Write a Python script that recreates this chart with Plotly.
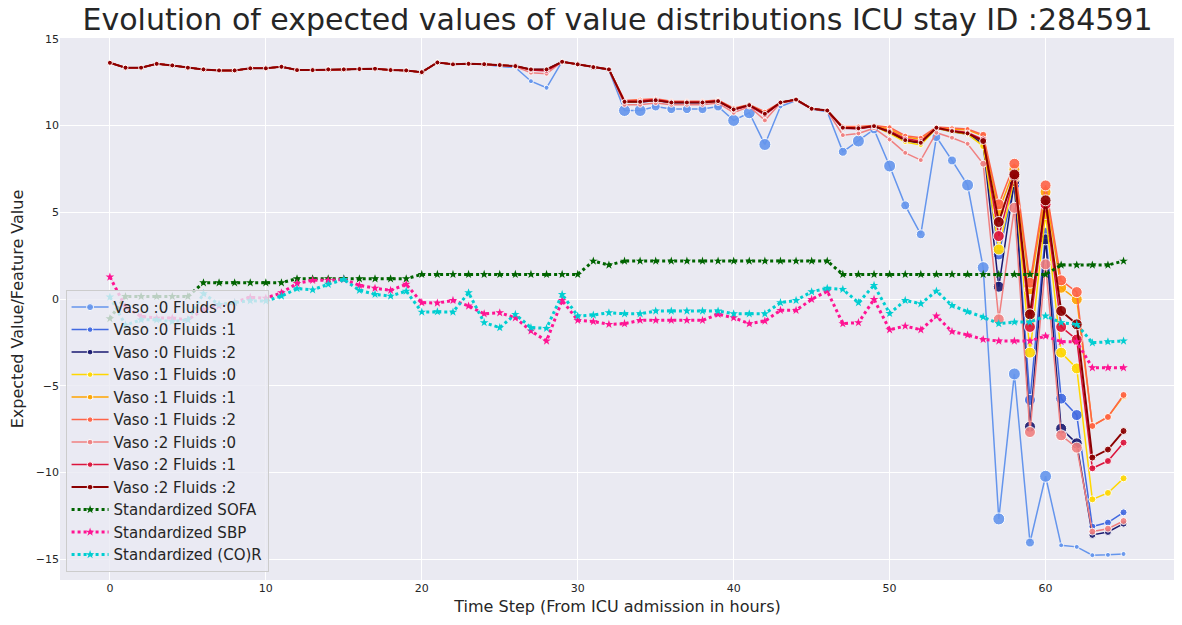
import plotly.graph_objects as go

# time steps (hours since ICU admission)
steps = list(range(66))

# t = 0..24, all nine action curves sit on top of each other here
head = [13.62, 13.34, 13.34, 13.56, 13.47, 13.34, 13.24, 13.18, 13.18, 13.30,
        13.30, 13.39, 13.20, 13.20, 13.24, 13.24, 13.26, 13.28, 13.20, 13.18,
        13.08, 13.64, 13.53, 13.56, 13.54]

# t = 25..65 per action
v0f0 = [13.40, 13.35, 12.56, 12.18, 13.70, 13.53, 13.37, 13.20, 10.87, 10.87,
        11.10, 10.95, 10.95, 10.95, 11.10, 10.30, 10.74, 8.91, 11.10, 11.45,
        10.95, 10.80, 8.49, 9.11, 9.78, 7.67, 5.40, 3.73, 9.34, 7.99,
        6.57, 1.81, -12.68, -4.32, -14.04, -10.22, -14.20, -14.29, -14.77, -14.75,
        -14.70]
v0f1 = [13.49, 13.43, 13.24, 13.22, 13.68, 13.53, 13.37, 13.24, 11.35, 11.35,
        11.45, 11.33, 11.33, 11.33, 11.40, 10.92, 11.17, 10.65, 11.33, 11.50,
        10.97, 10.87, 9.85, 9.83, 9.96, 9.60, 9.10, 9.00, 9.85, 9.65,
        9.50, 8.90, 2.57, 6.60, -5.82, 3.80, -5.74, -6.69, -13.12, -12.89,
        -12.30]
v0f2 = [13.49, 13.43, 13.24, 13.24, 13.68, 13.53, 13.37, 13.24, 11.37, 11.37,
        11.46, 11.33, 11.33, 11.33, 11.41, 10.93, 11.18, 10.68, 11.33, 11.50,
        10.97, 10.87, 9.86, 9.84, 9.97, 9.62, 9.14, 9.00, 9.87, 9.66,
        9.52, 8.95, 0.71, 6.80, -7.36, 3.44, -7.47, -8.32, -13.60, -13.43,
        -12.95]
v1f0 = [13.49, 13.43, 13.22, 13.20, 13.68, 13.53, 13.37, 13.24, 11.38, 11.38,
        11.47, 11.34, 11.34, 11.34, 11.42, 10.93, 11.18, 10.66, 11.33, 11.50,
        10.97, 10.87, 9.86, 9.84, 9.97, 9.55, 9.05, 8.88, 9.85, 9.65,
        9.50, 8.82, 2.86, 7.00, -3.09, 4.90, -3.09, -4.00, -11.55, -11.18,
        -10.34]
v1f1 = [13.49, 13.43, 13.22, 13.20, 13.68, 13.53, 13.37, 13.24, 11.42, 11.45,
        11.50, 11.37, 11.37, 11.37, 11.45, 10.95, 11.20, 10.70, 11.33, 11.50,
        10.97, 10.87, 9.90, 9.90, 9.98, 9.80, 9.35, 9.20, 9.90, 9.80,
        9.75, 9.40, 5.07, 7.47, 0.56, 6.17, 0.65, -0.02, -7.30, -6.80,
        -5.60]
v1f2 = [13.49, 13.43, 13.22, 13.20, 13.68, 13.53, 13.37, 13.24, 11.45, 11.50,
        11.55, 11.40, 11.40, 11.40, 11.48, 11.00, 11.22, 10.80, 11.33, 11.50,
        10.97, 10.87, 9.95, 9.95, 10.00, 9.90, 9.42, 9.30, 9.92, 9.85,
        9.80, 9.47, 5.46, 7.80, 0.94, 6.55, 1.08, 0.40, -7.32, -6.80,
        -5.53]
v2f0 = [13.45, 13.40, 13.05, 12.99, 13.68, 13.53, 13.37, 13.24, 11.20, 11.20,
        11.30, 11.20, 11.20, 11.20, 11.30, 10.74, 11.10, 10.30, 11.30, 11.45,
        10.97, 10.85, 9.45, 9.55, 9.85, 9.20, 8.43, 8.01, 9.59, 9.30,
        8.95, 7.80, -1.17, 5.26, -7.67, 2.00, -7.86, -8.57, -13.41, -13.24,
        -12.80]
v2f1 = [13.49, 13.43, 13.20, 13.15, 13.68, 13.53, 13.37, 13.24, 11.40, 11.42,
        11.50, 11.35, 11.35, 11.35, 11.43, 10.90, 11.15, 10.60, 11.33, 11.50,
        10.97, 10.87, 9.85, 9.82, 9.95, 9.70, 9.25, 9.10, 9.85, 9.72,
        9.60, 9.20, 3.63, 7.10, -1.61, 5.46, -1.61, -2.34, -9.76, -9.34,
        -8.28]
v2f2 = [13.49, 13.43, 13.24, 13.24, 13.68, 13.53, 13.37, 13.24, 11.37, 11.37,
        11.46, 11.33, 11.33, 11.33, 11.41, 10.93, 11.18, 10.68, 11.33, 11.50,
        10.97, 10.87, 9.88, 9.85, 9.97, 9.63, 9.16, 9.01, 9.88, 9.68,
        9.55, 9.11, 4.44, 7.18, -0.88, 5.69, -0.69, -1.46, -9.14, -8.68,
        -7.61]

sofa = [-1.13, 0.15, 0.15, 0.15, 0.15, 0.15, 0.94, 0.94, 0.94, 0.94,
        0.94, 0.94, 1.17, 1.17, 1.17, 1.17, 1.17, 1.17, 1.17, 1.17,
        1.42, 1.42, 1.42, 1.42, 1.42, 1.42, 1.42, 1.42, 1.42, 1.42,
        1.42, 2.19, 1.96, 2.19, 2.19, 2.19, 2.19, 2.19, 2.19, 2.19,
        2.19, 2.19, 2.19, 2.19, 2.19, 2.19, 2.19, 1.42, 1.42, 1.42,
        1.42, 1.42, 1.42, 1.42, 1.42, 1.42, 1.42, 1.42, 1.42, 1.42,
        1.42, 1.96, 1.96, 1.96, 1.96, 2.19]
sbp = [1.27, -0.45, -1.00, -1.10, -1.10, -1.20, -0.60, -0.40, -0.20, 0.10,
       0.05, 0.36, 0.90, 1.08, 1.08, 1.13, 0.79, 0.62, 0.50, 0.85,
       -0.21, -0.23, -0.08, -0.40, -0.85, -0.79, -1.08, -1.84, -2.42, -0.08,
       -1.23, -1.30, -1.46, -1.42, -1.23, -1.23, -1.23, -1.23, -1.23, -0.88,
       -1.08, -1.42, -1.27, -0.65, -0.65, -0.02, 0.46, -1.42, -1.36, -0.02,
       -1.77, -1.56, -1.77, -0.98, -1.88, -2.07, -2.33, -2.42, -2.42, -2.42,
       -2.13, -2.46, -2.46, -3.96, -3.96, -3.96]
cor = [0.12, -1.50, -1.20, -1.20, -1.30, -1.20, 0.31, -0.31, -0.20, -0.10,
       -0.12, 0.17, 0.60, 0.53, 0.85, 1.13, 0.50, 0.27, 0.17, 0.46,
       -0.75, -0.73, -0.75, 0.36, -1.36, -1.65, -0.88, -1.65, -1.69, 0.27,
       -0.98, -0.92, -0.79, -0.85, -0.85, -0.69, -0.69, -0.69, -0.69, -0.69,
       -0.85, -0.85, -0.85, -0.21, -0.08, 0.42, 0.62, 0.56, -0.21, 0.79,
       -0.83, -0.08, -0.27, 0.46, -0.37, -0.73, -1.04, -1.42, -1.33, -1.33,
       -0.98, -1.36, -1.46, -2.52, -2.46, -2.42]

names = ["Vaso :0 Fluids :0", "Vaso :0 Fluids :1", "Vaso :0 Fluids :2",
         "Vaso :1 Fluids :0", "Vaso :1 Fluids :1", "Vaso :1 Fluids :2",
         "Vaso :2 Fluids :0", "Vaso :2 Fluids :1", "Vaso :2 Fluids :2"]
tails = [v0f0, v0f1, v0f2, v1f0, v1f1, v1f2, v2f0, v2f1, v2f2]
colors = ["#6495ED", "#4169E1", "#191970", "#FFD700", "#FFA500",
          "#FF6347", "#F08080", "#DC143C", "#8B0000"]

# time steps where the marker is drawn larger (per action)
big_v0f0 = [33, 34, 40, 41, 42, 48, 50, 55, 56, 57, 58, 60]
mid_v0f0 = [35, 36, 37, 38, 39, 47, 49, 51, 52, 53, 54, 59]
big_other = [57, 58, 59, 60, 61, 62]
mid_other = [56, 63, 64, 65]


def marker_sizes(i):
    sizes = []
    for t in steps:
        if i == 0:
            s = 12 if t in big_v0f0 else (9 if t in mid_v0f0 else 5)
        else:
            s = 11 if t in big_other else (7 if t in mid_other else 5)
        sizes.append(s)
    return sizes


fig = go.Figure()

for i in range(9):
    fig.add_trace(go.Scatter(
        x=steps, y=head + tails[i], name=names[i], mode="lines+markers",
        line=dict(color=colors[i], width=1.5 if i < 8 else 2),
        marker=dict(color=colors[i], size=marker_sizes(i), opacity=0.9),
    ))

for vals, nm, col in [(sofa, "Standardized SOFA", "#006400"),
                      (sbp, "Standardized SBP", "#FF1493"),
                      (cor, "Standardized (CO)R", "#00CED1")]:
    fig.add_trace(go.Scatter(
        x=steps, y=vals, name=nm, mode="lines+markers",
        line=dict(color=col, width=3, dash="dot"),
        marker=dict(color=col, size=6.5, symbol="star"),
    ))

# the page body adds an 8px offset, so the figure is 8px smaller than the window
fig.update_layout(
    width=1174, height=617,
    margin=dict(l=52, r=7, t=30, b=45),
    paper_bgcolor="white", plot_bgcolor="#EAEAF2",
    font=dict(family="DejaVu Sans", color="#262626"),
    title=dict(text="Evolution of expected values of value distributions ICU stay ID :284591",
               xref="paper", x=0.5, xanchor="center", yref="container", y=0.999, yanchor="top",
               font=dict(size=30, color="#262626")),
    xaxis=dict(title=dict(text="Time Step (From ICU admission in hours)", font=dict(size=16), standoff=6),
               range=[-3.2, 68.3], tickvals=[0, 10, 20, 30, 40, 50, 60], automargin=False,
               gridcolor="white", gridwidth=1.2, zeroline=False, tickfont=dict(size=11),
               showline=False),
    yaxis=dict(title=dict(text="Expected Value/Feature Value", font=dict(size=16), standoff=8),
               range=[-16.2, 15.05], tickvals=[-15, -10, -5, 0, 5, 10, 15], automargin=False,
               gridcolor="white", gridwidth=1.2, zeroline=False, tickfont=dict(size=11),
               showline=False),
    legend=dict(x=0.005, y=0.015, xanchor="left", yanchor="bottom",
                bgcolor="rgba(234,234,242,0.8)", bordercolor="#CCCCCC", borderwidth=1,
                font=dict(size=15, color="#262626"), tracegroupgap=0, itemwidth=37),
    showlegend=True,
)

fig.write_html("out.html")
